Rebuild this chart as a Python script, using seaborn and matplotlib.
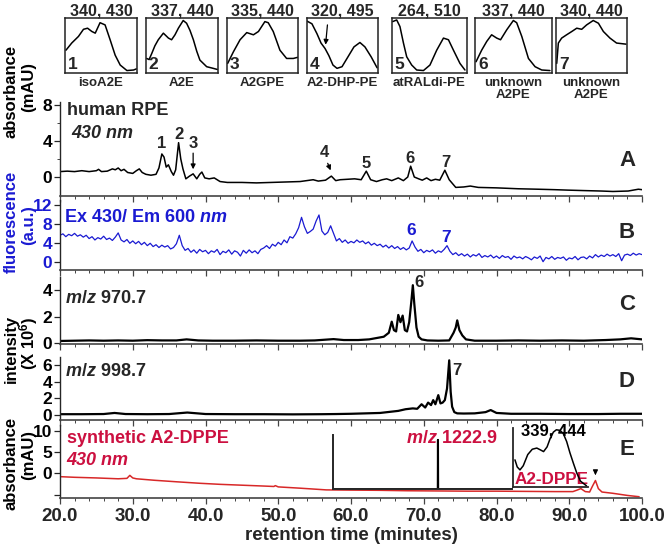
import numpy as np
import pandas as pd
import seaborn as sns
import matplotlib.pyplot as plt

# ---------------- data ----------------
# panel A: human RPE, absorbance at 430 nm (mAU)
rpe_time = [20, 21, 22, 23, 24, 25, 25.3, 25.7, 26.5, 27.2, 27.6, 28.0, 28.4, 28.8, 29.3,
            30.0, 30.5, 30.9, 31.3, 31.8, 32.5, 33.2, 33.6, 34.0, 34.3, 34.6, 34.9, 35.3,
            35.6, 35.9, 36.3, 36.6, 36.9, 37.3, 37.8, 38.3, 38.8, 39.2, 39.5, 39.9, 40.5,
            41.2, 42.0, 43, 45, 47, 49, 51, 53, 54.8, 55.5, 56.5, 57.3, 57.9, 58.5, 59.5,
            60.5, 61.4, 62.1, 62.7, 63.5, 64.3, 64.9, 65.6, 66.5, 67.2, 67.8, 68.2, 68.7,
            69.3, 69.8, 70.4, 71.0, 71.6, 72.2, 72.9, 73.5, 74.4, 75.5, 76.4, 77.5, 80, 83,
            85.7, 88, 89.8, 92, 94.4, 96, 98.1, 99.5, 100]
rpe_abs = [0.6, 0.65, 0.6, 0.7, 0.6, 0.7, 0.85, 0.6, 0.65, 0.9, 0.8, 1.0, 0.7, 0.85, 0.5,
           0.4, 0.7, 0.9, 0.5, 0.3, 0.2, 0.3, 1.0, 2.55, 2.2, 1.1, 1.35, 0.6,
           0.2, 0.8, 3.8, 2.0, 0.9, -0.2, 0.1, 0.35, -0.2, 0.3, 0.55, -0.1, -0.2,
           -0.1, -0.5, -0.6, -0.6, -0.65, -0.6, -0.55, -0.5, -0.3, -0.45, -0.35, 0.1, -0.4, -0.3, -0.25,
           -0.2, -0.3, 0.65, -0.3, -0.5, -0.3, -0.2, -0.4, -0.1, -0.4, 0.0, 1.2, 0.0,
           -0.2, -0.35, -0.1, -0.4, -0.25, -0.35, 0.75, -0.3, -1.15, -1.1, -1.0, -1.15, -1.2, -1.3,
           -1.35, -1.4, -1.45, -1.5, -1.55, -1.6, -1.55, -1.35, -1.4]

# panel B: fluorescence Ex 430 / Em 600, sampled every 0.4 min from 20 to 100
fluor_signal = [
    5.6, 5.9, 5.3, 5.8, 5.5, 6.0, 5.4, 5.7, 5.2, 5.6,
    4.9, 5.3, 4.6, 5.1, 4.8, 5.4, 4.7, 5.0, 4.5, 5.2,
    6.1, 4.6, 4.2, 4.7, 3.9, 4.4, 3.8, 4.3, 3.6, 4.1,
    3.4, 3.9, 3.2, 3.6, 3.0, 3.5, 3.1, 3.4, 2.7, 3.0,
    3.8, 5.6, 3.4, 2.4, 2.8, 2.0, 2.5, 1.8, 2.6, 2.1,
    2.4, 1.7, 2.3, 2.0, 2.6, 1.5, 2.2, 1.9, 2.5, 1.6,
    2.3, 2.0, 1.2, 2.4, 1.8, 2.5, 1.9, 2.3, 1.7, 2.6,
    2.9, 3.4, 2.8, 3.7, 3.3, 4.1, 3.6, 4.6, 4.0, 5.3,
    5.0, 5.9, 7.2, 9.4, 7.4, 6.0, 6.4, 6.9, 8.6, 9.9,
    6.5, 5.7, 6.2, 7.6, 6.0, 4.4, 4.9, 4.1, 4.6, 3.9,
    4.3, 4.0, 4.6, 4.1, 4.4, 3.8, 4.2, 3.5, 3.9, 3.4,
    3.7, 3.1, 3.5, 2.9, 3.4, 2.8, 3.2, 2.6, 3.0, 2.5,
    2.9, 4.4, 3.1, 2.2, 2.6, 1.9, 2.4, 2.1, 2.5, 1.8,
    2.3, 2.0, 2.6, 3.4, 2.2, 1.5, 1.9, 1.3, 1.7, 1.2,
    1.6, 1.0, 1.5, 1.2, 1.7, 0.9, 1.3, 1.0, 1.4, 0.8,
    1.2, 0.7, 1.3, 0.9, 1.1, 0.5, 1.2, 0.8, 1.0, 0.6,
    1.1, 0.8, 0.4, 1.0, 0.7, 1.2, 0.0, 0.9, 0.6, 1.1,
    0.5, 0.9, 0.7, 1.0, 0.3, 0.8, 0.6, 1.1, 0.4, 0.9,
    1.0, 0.6, 1.2, 0.8, 1.5, 1.0, 1.4, 1.1, 1.6, 1.2,
    1.5, 1.1, 1.7, 0.2, 1.4, 1.6, 1.3, 1.8, 1.4, 1.7,
    1.5]
fluor_time = np.linspace(20, 100, len(fluor_signal))

# panel C: m/z 970.7 ion intensity (x 10^6)
ms970_time = [20, 22, 24, 26, 28, 30, 32, 34, 36, 37.4, 39, 41, 44, 47, 50, 53, 55, 57.6,
              59, 61, 62.5, 63.5, 64.5, 65.2, 65.6, 65.9, 66.2, 66.5, 66.8, 67.1, 67.4,
              67.7, 68.0, 68.3, 68.5, 68.7, 69.0, 69.3, 69.7, 70.5, 72, 73.5, 74.1, 74.4,
              74.6, 74.9, 75.3, 75.8, 77, 80, 83, 86, 89, 92, 95, 97, 98.5, 100]
ms970_int = [0.18, 0.2, 0.22, 0.2, 0.22, 0.2, 0.24, 0.22, 0.22, 0.3, 0.22, 0.2, 0.2, 0.22,
             0.2, 0.2, 0.22, 0.32, 0.25, 0.25, 0.3, 0.4, 0.5, 0.8, 1.64, 1.0, 0.9, 2.15,
             1.6, 2.1, 1.0, 0.9, 1.6, 3.2, 4.4, 3.0, 1.2, 0.5, 0.3, 0.22, 0.2, 0.22, 0.8,
             1.2, 1.74, 1.0, 0.6, 0.3, 0.2, 0.2, 0.22, 0.2, 0.22, 0.2, 0.25, 0.3, 0.38, 0.3]

# panel D: m/z 998.7 ion intensity (x 10^6)
ms998_time = [20, 23, 26, 27.5, 29, 32, 35, 37.5, 40, 44, 48, 52, 56, 58, 60, 62, 64, 65.5,
              66.5, 67.5, 68.5, 69.1, 69.7, 70.2, 70.6, 71.0, 71.3, 71.6, 72.0, 72.3, 72.6,
              72.9, 73.2, 73.5, 73.7, 73.9, 74.2, 74.6, 75.5, 77, 78.5, 79.2, 80, 82, 86,
              90, 94, 97, 100]
ms998_int = [0.1, 0.1, 0.12, 0.25, 0.12, 0.1, 0.12, 0.3, 0.12, 0.1, 0.1, 0.08, 0.1, 0.12,
             0.15, 0.2, 0.25, 0.4, 0.5, 0.7, 0.8, 0.75, 1.3, 0.9, 1.5, 1.2, 1.8, 1.3, 2.4,
             1.4, 1.5, 1.8, 3.2, 6.6, 2.8, 1.0, 0.35, 0.2, 0.18, 0.2, 0.35, 0.6, 0.25, 0.15,
             0.15, 0.12, 0.12, 0.15, 0.15]

# panel E: synthetic A2-DPPE, absorbance at 430 nm (mAU)
syn_time = [20, 22, 25, 28, 29.2, 29.6, 30.0, 30.5, 33, 36, 39.2, 42, 45, 48, 49.4, 49.6,
            50, 53, 56.6, 60, 64, 67.7, 72, 76, 80, 84, 88, 90.5, 91.0, 91.6, 92.2, 92.8,
            93.2, 93.6, 94.0, 94.5, 96, 98, 99.6]
syn_abs = [-0.8, -0.95, -1.1, -1.3, -1.2, -0.5, -1.1, -1.3, -1.65, -2.0, -2.35, -2.6, -2.8,
           -3.0, -3.1, -2.9, -3.2, -3.5, -3.9, -3.95, -4.0, -4.1, -4.15, -4.2, -4.2, -4.25,
           -4.3, -4.3, -4.0, -3.6, -4.3, -4.4, -3.0, -1.7, -3.6, -4.4, -4.7, -5.2, -5.5]

# mass spectrum inset in E (relative abundance)
ms_mz = [900, 1222.4, 1222.9, 1223.4, 1450]
ms_rel = [0, 0, 91, 0, 0]

# UV-vis inset in E (synthetic A2-DPPE)
dppe_nm = [259, 268, 279, 292, 310, 328, 346, 360, 373, 387, 400, 412, 424, 438, 451, 465,
           478, 492, 505, 520, 544]
dppe_abs = [0.46, 0.34, 0.29, 0.36, 0.55, 0.64, 0.66, 0.63, 0.60, 0.68, 0.83, 0.93, 0.97,
            0.96, 0.91, 0.77, 0.58, 0.40, 0.24, 0.10, 0.02]

# UV-vis spectra of peaks 1-7 (top row)
spec1_nm = [254, 278, 306, 327, 344, 362, 376, 396, 417, 438, 459, 480, 508, 536, 547]
spec1_abs = [0.42, 0.55, 0.67, 0.80, 0.82, 0.76, 0.73, 0.92, 0.88, 0.61, 0.33, 0.15, 0.05, 0.06, 0.08]
spec2_nm = [254, 264, 275, 288, 302, 323, 344, 357, 371, 385, 405, 419, 433, 447, 461, 474, 502, 529, 546]
spec2_abs = [0.27, 0.25, 0.36, 0.50, 0.61, 0.73, 0.64, 0.61, 0.70, 0.82, 0.96, 0.91, 0.78, 0.61,
             0.40, 0.24, 0.12, 0.09, 0.07]
spec3_nm = [254, 278, 306, 334, 362, 383, 410, 424, 445, 473, 501, 529, 547]
spec3_abs = [0.18, 0.39, 0.61, 0.74, 0.70, 0.76, 0.94, 0.92, 0.76, 0.42, 0.27, 0.27, 0.29]
spec4_nm = [251, 272, 293, 310, 327, 343, 360, 377, 398, 423, 448, 473, 494, 520, 545]
spec4_abs = [0.95, 0.90, 0.72, 0.55, 0.45, 0.32, 0.15, 0.09, 0.12, 0.30, 0.48, 0.56, 0.48, 0.30, 0.10]
spec5_nm = [254, 270, 283, 297, 310, 330, 350, 377, 403, 430, 457, 477, 497, 523, 543]
spec5_abs = [0.94, 0.97, 0.85, 0.55, 0.30, 0.15, 0.06, 0.05, 0.15, 0.42, 0.64, 0.61, 0.42, 0.18, 0.06]
spec6_nm = [254, 276, 296, 315, 335, 350, 374, 400, 413, 433, 459, 485, 511, 543]
spec6_abs = [0.21, 0.42, 0.58, 0.70, 0.64, 0.61, 0.79, 0.96, 0.92, 0.67, 0.27, 0.12, 0.06, 0.05]
spec7_nm = [253, 260, 274, 295, 317, 338, 359, 380, 408, 430, 451, 479, 507, 547]
spec7_abs = [0.18, 0.55, 0.64, 0.70, 0.76, 0.82, 0.80, 0.88, 0.96, 0.91, 0.76, 0.64, 0.55, 0.53]

spec_titles = ["340, 430", "337, 440", "335, 440", "320, 495", "264, 510", "337, 440", "340, 440"]
spec_names = ["isoA2E", "A2E", "A2GPE", "A2-DHP-PE", "atRALdi-PE", "unknown\nA2PE", "unknown\nA2PE"]

# ---------------- styling ----------------
sns.set_style("ticks")
plt.rcParams["font.family"] = ["Liberation Sans", "DejaVu Sans"]
plt.rcParams["font.weight"] = "bold"
plt.rcParams["axes.labelweight"] = "bold"
plt.rcParams["mathtext.fontset"] = "custom"
plt.rcParams["mathtext.rm"] = "Liberation Sans:bold"
plt.rcParams["mathtext.bf"] = "Liberation Sans:bold"
plt.rcParams["mathtext.it"] = "Liberation Sans:italic:bold"

BLUE = "#1a1ad2"
RED_TXT = "#cc1040"
RED_LINE = "#d82828"
BOLD = dict(fontweight="bold")

W, H = 667, 548
fig = plt.figure(figsize=(W / 100, H / 100), dpi=100)


def rect(l, t, r, b):
    return [l / W, 1 - b / H, (r - l) / W, (b - t) / H]


def setup_panel(ax, ylim, yticks, ylabels=None, color="black"):
    ax.set_xlim(20, 100)
    ax.set_ylim(*ylim)
    for s in ["top", "right"]:
        ax.spines[s].set_visible(False)
    ax.spines["left"].set_linewidth(1.0)
    ax.spines["bottom"].set_linewidth(1.2)
    ax.spines["bottom"].set_color("#444444")
    ax.set_xticks(np.arange(20, 101, 10))
    ax.set_xticks(np.arange(20, 101, 2), minor=True)
    ax.set_yticks(yticks)
    ax.set_yticklabels(ylabels if ylabels is not None else [str(v) for v in yticks],
                       fontweight="bold")
    ax.tick_params(axis="x", which="major", length=4, width=0.9, color="#444444", labelbottom=False)
    ax.tick_params(axis="x", which="minor", length=2.5, width=0.7, color="#444444")
    ax.tick_params(axis="y", which="major", length=4, width=0.9, pad=1.5,
                   labelsize=12.5, labelcolor=color)
    ax.set_xlabel("")
    ax.set_ylabel("")
    ax.patch.set_alpha(0)


# ---------------- top row of spectra ----------------
spec_boxes = [(65, 137), (145.7, 218.3), (226.7, 298.3), (306.7, 378.3),
              (391.7, 466.7), (475, 551.7), (556, 626.7)]
spec_nm = [spec1_nm, spec2_nm, spec3_nm, spec4_nm, spec5_nm, spec6_nm, spec7_nm]
spec_abs = [spec1_abs, spec2_abs, spec3_abs, spec4_abs, spec5_abs, spec6_abs, spec7_abs]
for i, (l, r) in enumerate(spec_boxes):
    axs = fig.add_axes(rect(l, 18.3, r, 73.3))
    sns.lineplot(x=spec_nm[i], y=spec_abs[i], ax=axs, color="black", lw=1.1,
                 sort=False, estimator=None)
    axs.set_xlim(250, 550)
    axs.set_ylim(0, 1)
    axs.set_xticks([])
    axs.set_yticks([])
    axs.set_xlabel("")
    axs.set_ylabel("")
    for s in axs.spines.values():
        s.set_linewidth(1.1)
        s.set_color("#222222")
    axs.text(0.04, 0.03, str(i + 1), transform=axs.transAxes, fontsize=12.5,
             ha="left", va="bottom", **BOLD)
    cx = (l + r) / 2 / W
    fig.text(cx, 1 - 15 / H, spec_titles[i], ha="center", va="baseline", fontsize=11.5, **BOLD)
    fig.text(cx, 1 - 76.5 / H, spec_names[i], ha="center", va="top", fontsize=9.5,
             linespacing=1.0, **BOLD)
    if i == 3:
        axs.annotate("", xy=(328, 0.47), xytext=(338, 0.93),
                     arrowprops=dict(arrowstyle="-|>", color="black", lw=0.9, mutation_scale=7))

# ---------------- panel A ----------------
ax_a = fig.add_axes(rect(60, 102, 642, 196))
sns.lineplot(x=rpe_time, y=rpe_abs, ax=ax_a, color="black", lw=1.1, sort=False, estimator=None)
setup_panel(ax_a, (-2.1, 8.3), [0, 4, 8])
ax_a.set_yticks([2, 6], minor=True)
ax_a.tick_params(axis="y", which="minor", length=2.5)
ax_a.text(21.0, 6.86, "human RPE", fontsize=13, va="baseline", **BOLD)
ax_a.text(21.5, 4.31, "430 nm", fontsize=13, style="italic", va="baseline", **BOLD)
for lab, t, v in [("1", 33.98, 3.17), ("2", 36.4, 4.17), ("3", 38.25, 3.17), ("4", 56.4, 2.25),
                  ("5", 62.06, 0.96), ("6", 68.1, 1.52), ("7", 73.0, 1.14)]:
    ax_a.text(t, v, lab, fontsize=12, ha="center", va="baseline", **BOLD)
ax_a.annotate("", xy=(38.3, 0.55), xytext=(38.3, 2.95),
              arrowprops=dict(arrowstyle="-|>", color="black", lw=0.9, mutation_scale=7))
ax_a.annotate("", xy=(57.35, 0.45), xytext=(56.65, 1.8),
              arrowprops=dict(arrowstyle="-|>", color="black", lw=0.9, mutation_scale=7))

# ---------------- panel B ----------------
ax_b = fig.add_axes(rect(60, 200, 642, 270))
sns.lineplot(x=fluor_time, y=fluor_signal, ax=ax_b, color=BLUE, lw=0.9, sort=False, estimator=None)
setup_panel(ax_b, (-1.76, 13.07), [0, 4, 8, 12], color=BLUE)
ax_b.text(20.55, 8.47, r"Ex 430/ Em 600 $\mathit{nm}$", fontsize=13, color=BLUE, va="baseline", **BOLD)
ax_b.text(68.25, 5.66, "6", fontsize=12.5, color=BLUE, ha="center", va="baseline", **BOLD)
ax_b.text(73.06, 4.24, "7", fontsize=12.5, color=BLUE, ha="center", va="baseline", **BOLD)

# ---------------- panel C ----------------
ax_c = fig.add_axes(rect(60, 277, 642, 344))
sns.lineplot(x=ms970_time, y=ms970_int, ax=ax_c, color="black", lw=1.6, sort=False, estimator=None)
setup_panel(ax_c, (-0.05, 5.02), [0, 2, 4])
ax_c.text(20.7, 3.08, r"$\mathit{m/z}$ 970.7", fontsize=13, va="baseline", **BOLD)
ax_c.text(69.4, 4.29, "6", fontsize=12, ha="center", va="baseline", **BOLD)

# ---------------- panel D ----------------
ax_d = fig.add_axes(rect(60, 357, 642, 420))
sns.lineplot(x=ms998_time, y=ms998_int, ax=ax_d, color="black", lw=1.6, sort=False, estimator=None)
setup_panel(ax_d, (-0.6, 7.0), [0, 2, 4, 6])
ax_d.text(20.7, 4.7, r"$\mathit{m/z}$ 998.7", fontsize=13, va="baseline", **BOLD)
ax_d.text(74.6, 4.79, "7", fontsize=12, ha="center", va="baseline", **BOLD)

# ---------------- panel E ----------------
ax_e = fig.add_axes(rect(60, 425, 642, 498))
sns.lineplot(x=syn_time, y=syn_abs, ax=ax_e, color=RED_LINE, lw=1.1, sort=False, estimator=None)
setup_panel(ax_e, (-5.8, 11.3), [-5, 0, 5, 10], ["", "0", "5", "10"])
ax_e.tick_params(axis="x", which="major", labelbottom=True, labelsize=13.5, pad=3)
ax_e.set_xticklabels([f"{v:.1f}" for v in np.arange(20, 101, 10)], fontweight="bold")
ax_e.set_xlabel("retention time (minutes)", fontsize=13.5, labelpad=2, fontweight="bold")
ax_e.text(20.9, 7.04, "synthetic A2-DPPE", fontsize=13, color=RED_TXT, va="baseline", **BOLD)
ax_e.text(20.9, 1.95, "430 nm", fontsize=13, style="italic", color=RED_TXT, va="baseline", **BOLD)
ax_e.text(67.56, 7.04, r"$\mathit{m/z}$ 1222.9", fontsize=13, color=RED_TXT, va="baseline", **BOLD)
ax_e.text(87.6, -2.5, "A2-DPPE", fontsize=12.3, color=RED_TXT, ha="center", va="baseline", **BOLD)
ax_e.text(87.8, 8.76, "339, 444", fontsize=12, color="black", ha="center", va="baseline",
          zorder=5, **BOLD)
ax_e.annotate("", xy=(93.6, -1.1), xytext=(93.6, 0.8),
              arrowprops=dict(arrowstyle="-|>", color="black", lw=0.9, mutation_scale=7))

# mass spectrum inset
ax_ms = fig.add_axes(rect(332.7, 435, 512, 489.3))
sns.lineplot(x=ms_mz, y=ms_rel, ax=ax_ms, color="black", lw=1.5, sort=False, estimator=None)
ax_ms.set_xlim(900, 1450)
ax_ms.set_ylim(0, 100)
ax_ms.set_xticks([])
ax_ms.set_yticks([])
ax_ms.set_xlabel("")
ax_ms.set_ylabel("")
for s in ["top", "right"]:
    ax_ms.spines[s].set_visible(False)
for s in ["left", "bottom"]:
    ax_ms.spines[s].set_linewidth(1.4)
ax_ms.patch.set_alpha(0)

# UV-vis inset
ax_uv = fig.add_axes(rect(512.7, 428, 588, 487))
sns.lineplot(x=dppe_nm, y=dppe_abs, ax=ax_uv, color="black", lw=1.1, sort=False, estimator=None)
ax_uv.set_xlim(250, 550)
ax_uv.set_ylim(0, 1)
ax_uv.set_xticks([])
ax_uv.set_yticks([])
ax_uv.set_xlabel("")
ax_uv.set_ylabel("")
for s in ["top", "right"]:
    ax_uv.spines[s].set_visible(False)
for s in ["left", "bottom"]:
    ax_uv.spines[s].set_linewidth(1.3)
ax_uv.patch.set_alpha(0)

# ---------------- panel letters ----------------
for lab, yb in [("A", 166), ("B", 238.3), ("C", 310), ("D", 386.7), ("E", 455)]:
    fig.text(627 / W, 1 - yb / H, lab, fontsize=16, ha="center", va="baseline", **BOLD)

# ---------------- left axis titles ----------------
ylabs = [("absorbance", 11.5, 91, "black"), ("(mAU)", 29, 87, "black"),
         ("fluorescence", 11.5, 222, BLUE), ("(a.u.)", 28.5, 225, BLUE),
         ("intensity", 11.5, 349, "black"), (r"(X 10$^{6}$)", 29, 343, "black"),
         ("absorbance", 11.5, 463, "black"), ("(mAU)", 28.5, 455, "black")]
for txt, x, y, c in ylabs:
    fig.text(x / W, 1 - y / H, txt, rotation=90, ha="center", va="center",
             fontsize=12, color=c, **BOLD)

fig.savefig("out.png", dpi=100)
